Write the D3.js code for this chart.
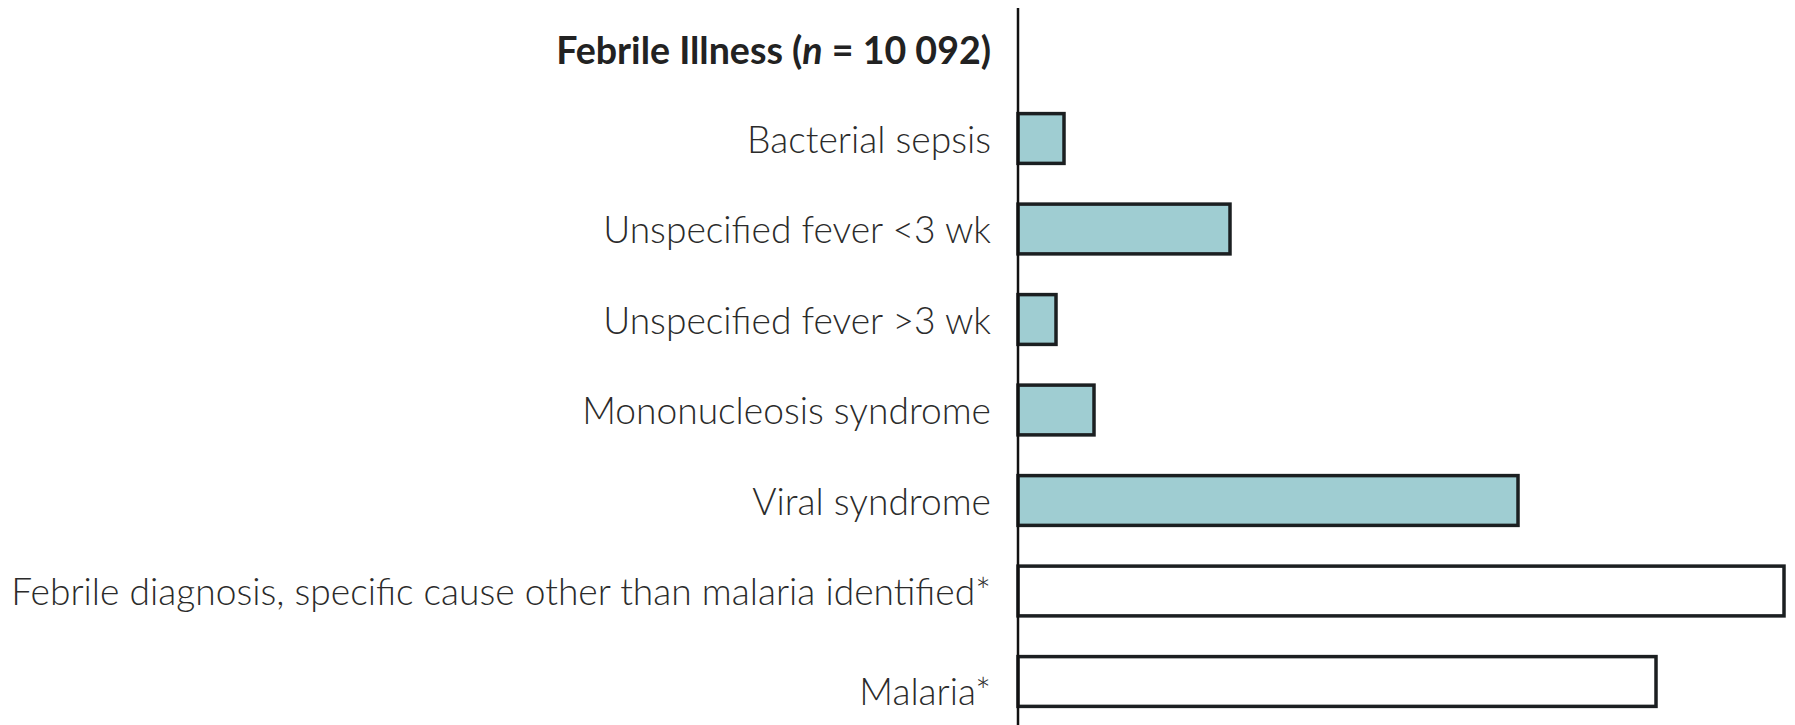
<!DOCTYPE html>
<html>
<head>
<meta charset="utf-8">
<script src="https://cdn.jsdelivr.net/npm/d3@7"></script>
<style>
  html, body { margin: 0; padding: 0; background: #ffffff; }
  svg { display: block; }
</style>
</head>
<body>
<svg id="chart" width="1795" height="725"></svg>
<script>
// ---- data ----
const categories = [
  "Bacterial sepsis",
  "Unspecified fever <3 wk",
  "Unspecified fever >3 wk",
  "Mononucleosis syndrome",
  "Viral syndrome",
  "Febrile diagnosis, specific cause other than malaria identified*",
  "Malaria*"
];
const values = [2.3, 10.6, 1.9, 3.8, 25.0, 38.3, 31.9];
const filled = [true, true, true, true, true, false, false];
const titleMain = "Febrile Illness (";
const titleItalic = "n";
const titleRest = " = 10 092)";

// ---- layout ----
const W = 1795, H = 725;
const axisX = 1018;
const labelRight = 991;
const svg = d3.select("#chart");

const y = d3.scaleBand()
  .domain(categories)
  .range([93.25, 726.75])
  .paddingInner(0.45)
  .paddingOuter(0.225);

const x = d3.scaleLinear()
  .domain([0, 40])
  .range([axisX, axisX + 800]);

// bars
svg.append("g").selectAll("rect")
  .data(categories)
  .join("rect")
  .attr("x", x(0))
  .attr("y", d => y(d))
  .attr("width", (d, i) => x(values[i]) - x(0))
  .attr("height", y.bandwidth())
  .attr("fill", (d, i) => filled[i] ? "#9fcdd2" : "#ffffff")
  .attr("stroke", "#1b1f21")
  .attr("stroke-width", 3.5);

// axis line
const yAxis = d3.axisLeft(y).tickSize(0).tickFormat("");
const ag = svg.append("g").attr("transform", `translate(${axisX},0)`).call(yAxis);
ag.select(".domain").remove();
svg.append("line")
  .attr("x1", axisX).attr("x2", axisX)
  .attr("y1", 8).attr("y2", H)
  .attr("stroke", "#111").attr("stroke-width", 2.5);

// labels
const fontFamily = "Lato, 'Open Sans', sans-serif";
const labels = svg.append("g").selectAll("text")
  .data(categories)
  .join("text")
  .attr("text-anchor", "end")
  .attr("font-family", fontFamily)
  .attr("font-size", 38)
  .attr("font-weight", 300)
  .attr("fill", "#2b2b2b")
  .text(d => d);

// uniform horizontal scale fitted to the longest label
const longest = labels.filter((d, i) => i === 5).node();
const kx = 980 / longest.getComputedTextLength();
labels.attr("transform", (d, i) => {
  const extra = i === categories.length - 1 ? 9 : 0;
  return `translate(${labelRight},${y(d) + y.bandwidth() / 2 + 14 + extra}) scale(${kx},1)`;
});

// title
const title = svg.append("text")
  .attr("text-anchor", "end")
  .attr("font-family", fontFamily)
  .attr("font-size", 38)
  .attr("font-weight", 700)
  .attr("fill", "#222");
title.append("tspan").text(titleMain);
title.append("tspan").attr("font-style", "italic").text(titleItalic);
title.append("tspan").text(titleRest);
const kt = 435 / title.node().getComputedTextLength();
title.attr("transform", `translate(${labelRight},${y(categories[0]) + y.bandwidth() / 2 - y.step() + 16}) scale(${kt},1)`);
</script>
</body>
</html>
